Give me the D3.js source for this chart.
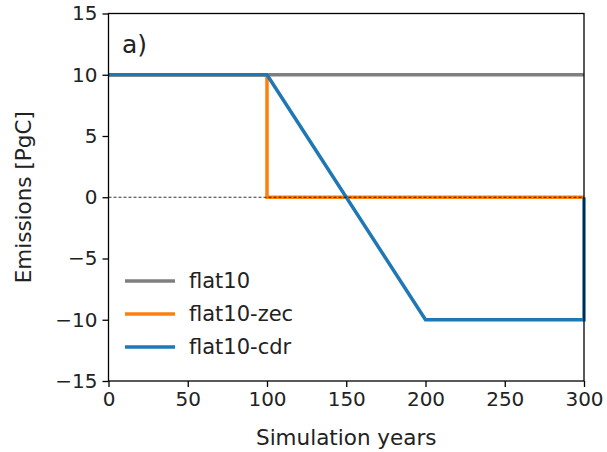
<!DOCTYPE html>
<html>
<head>
<meta charset="utf-8">
<script src="https://cdn.jsdelivr.net/npm/d3@7"></script>
<style>
  html, body { margin: 0; padding: 0; background: #fff; }
  svg { display: block; font-family: "DejaVu Sans", sans-serif; }
</style>
</head>
<body>
<svg id="chart" width="607" height="452"></svg>
<script>
// Emission pathways (simulation year, PgC/yr)
const flat10Years = [0, 300];
const flat10Values = [10, 10];
const zecYears = [0, 100, 100, 300];
const zecValues = [10, 10, 0, 0];
const cdrYears = [0, 100, 200, 300, 300];
const cdrValues = [10, 10, -10, -10, 0];

const seriesNames = ["flat10", "flat10-zec", "flat10-cdr"];
const seriesColors = ["#7f7f7f", "#ff7f0e", "#1f77b4"];

const xTicks = [0, 50, 100, 150, 200, 250, 300];
const yTicks = [-15, -10, -5, 0, 5, 10, 15];

const margin = { left: 108.5, right: 23, top: 13.5, bottom: 71 };
const W = 607, H = 452;
const svg = d3.select("#chart");

const x = d3.scaleLinear().domain([0, 300]).range([margin.left, W - margin.right]);
const y = d3.scaleLinear().domain([-15, 15]).range([H - margin.bottom, margin.top]);

const series = [
  { name: seriesNames[0], color: seriesColors[0], pts: d3.zip(flat10Years, flat10Values) },
  { name: seriesNames[1], color: seriesColors[1], pts: d3.zip(zecYears, zecValues) },
  { name: seriesNames[2], color: seriesColors[2], pts: d3.zip(cdrYears, cdrValues) }
];

const line = d3.line().x(d => x(d[0])).y(d => y(d[1]));

const plot = svg.append("g");
series.forEach(s => {
  plot.append("path")
    .attr("d", line(s.pts))
    .attr("fill", "none")
    .attr("stroke", s.color)
    .attr("stroke-width", 3.5)
    .attr("stroke-linejoin", "miter");
});

// zero reference line
plot.append("line")
  .attr("x1", x(0)).attr("x2", x(300))
  .attr("y1", y(0)).attr("y2", y(0))
  .attr("stroke", "#000")
  .attr("stroke-width", 0.8)
  .attr("stroke-dasharray", "3,2");

// frame
svg.append("rect")
  .attr("x", x(0)).attr("y", y(15))
  .attr("width", x(300) - x(0)).attr("height", y(-15) - y(15))
  .attr("fill", "none").attr("stroke", "#000").attr("stroke-width", 1.3);

// axes
const xAxis = svg.append("g")
  .attr("transform", `translate(0,${y(-15)})`)
  .call(d3.axisBottom(x).tickValues(xTicks).tickSize(6).tickPadding(5).tickFormat(d3.format("d")));
const yAxis = svg.append("g")
  .attr("transform", `translate(${x(0)},0)`)
  .call(d3.axisLeft(y).tickValues(yTicks).tickSize(6).tickPadding(5)
    .tickFormat(d => d < 0 ? "\u2212" + Math.abs(d) : d));
[xAxis, yAxis].forEach(a => {
  a.select(".domain").remove();
  a.selectAll(".tick line").attr("stroke", "#000").attr("stroke-width", 1.3);
  a.selectAll("text").attr("fill", "#222").style("font-size", "20px")
    .style("font-family", "'DejaVu Sans', sans-serif");
});

// axis titles
svg.append("text")
  .attr("x", (x(0) + x(300)) / 2).attr("y", 445)
  .attr("text-anchor", "middle").attr("fill", "#222")
  .style("font-size", "21.5px").text("Simulation years");
svg.append("text")
  .attr("transform", `translate(31,${y(0)}) rotate(-90)`)
  .attr("text-anchor", "middle").attr("fill", "#222")
  .style("font-size", "21.5px").text("Emissions [PgC]");

// panel label
svg.append("text")
  .attr("x", 122).attr("y", 53)
  .attr("fill", "#222").style("font-size", "25px").text("a)");

// legend
const legend = svg.append("g");
series.forEach((s, i) => {
  const ly = 281 + i * 33;
  legend.append("line")
    .attr("x1", 125).attr("x2", 175).attr("y1", ly).attr("y2", ly)
    .attr("stroke", s.color).attr("stroke-width", 3.5);
  legend.append("text")
    .attr("x", 189).attr("y", ly + 7)
    .attr("fill", "#222").style("font-size", "21px").text(s.name);
});
</script>
</body>
</html>
